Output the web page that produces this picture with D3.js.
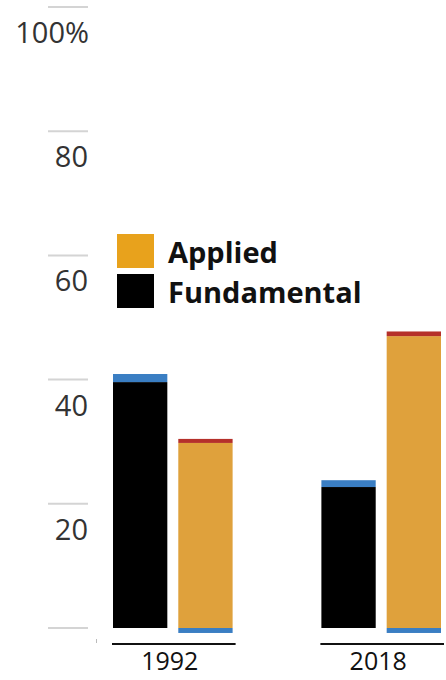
<!DOCTYPE html>
<html lang="en">
<head>
  <meta charset="UTF-8">
  <title>Fundamental vs Applied, 1992 and 2018</title>
  <script src="https://d3js.org/d3.v7.min.js"></script>
  <style>
    body {
      margin: 0;
      overflow: hidden;
      background-color: #fff;
      font-family: 'Open Sans', sans-serif;
    }
    svg {
      display: block;
    }
    .tick-mark {
      stroke: #d4d4d4;
      stroke-width: 2px;
    }
    .tick-label {
      font-size: 29px;
      fill: #333;
      text-anchor: end;
    }
    .year-label {
      font-size: 25px;
      fill: #111;
      text-anchor: middle;
    }
    .base-line {
      stroke: #111;
      stroke-width: 2px;
    }
    .legend-label {
      font-size: 29px;
      font-weight: 700;
      fill: #111;
    }
  </style>
</head>
<body>
<svg></svg>
<script>
  // values (percent)
  const years = ["1992", "2018"];
  const barTypes = ["Fundamental", "Applied"];
  const fundamental = [39.6, 22.7];
  const fundamentalTop = [1.3, 1.1];   // blue cap on fundamental bars
  const applied = [29.8, 47.0];
  const appliedTop = [0.65, 0.75];     // red cap on applied bars
  const appliedBelow = [0.8, 0.8];     // blue strip under applied bars
  const tickValues = [0, 20, 40, 60, 80, 100];
  const legendItems = ["Applied", "Fundamental"];

  const width = 446;
  const height = 680;

  const colors = {
    fundamental: "#000000",
    applied: "#dfa13c",
    blue: "#3a7ec3",
    red: "#b5302a",
    legendApplied: "#e8a21c",
    legendFundamental: "#000000"
  };

  const svg = d3.select("svg")
          .attr("width", width)
          .attr("height", height);

  const y = d3.scaleLinear().domain([0, 100]).range([628, 7]);

  const x = d3.scaleBand()
          .domain(years)
          .range([113, 441])
          .paddingInner(0.426)
          .paddingOuter(0);

  const xInner = d3.scaleBand()
          .domain(barTypes)
          .range([0, x.bandwidth()])
          .paddingInner(0.168)
          .paddingOuter(0);

  // y axis: short grey marks with labels below them
  const axis = svg.append("g");
  axis.selectAll("line")
          .data(tickValues)
          .join("line")
          .attr("class", "tick-mark")
          .attr("x1", 48)
          .attr("x2", 88)
          .attr("y1", d => y(d))
          .attr("y2", d => y(d));

  axis.selectAll("text")
          .data(tickValues.filter(d => d > 0))
          .join("text")
          .attr("class", "tick-label")
          .attr("x", d => d === 100 ? 89 : 88)
          .attr("y", d => y(d) + 36)
          .text(d => d === 100 ? "100%" : d);

  axis.append("line")
          .attr("x1", 96.5).attr("x2", 96.5)
          .attr("y1", 639).attr("y2", 643)
          .attr("stroke", "#bbb")
          .attr("stroke-width", 1);

  // bars
  const rows = years.map((yr, i) => ({
    year: yr,
    fundamental: fundamental[i],
    fundamentalTop: fundamentalTop[i],
    applied: applied[i],
    appliedTop: appliedTop[i],
    appliedBelow: appliedBelow[i]
  }));

  const group = svg.append("g")
          .selectAll("g")
          .data(rows)
          .join("g")
          .attr("transform", d => `translate(${x(d.year)},0)`);

  const fx = xInner("Fundamental");
  const ax = xInner("Applied");
  const bw = xInner.bandwidth();

  // fundamental stack
  group.append("rect")
          .attr("x", fx).attr("width", bw)
          .attr("y", d => y(d.fundamental))
          .attr("height", d => y(0) - y(d.fundamental))
          .attr("fill", colors.fundamental);
  group.append("rect")
          .attr("x", fx).attr("width", bw)
          .attr("y", d => y(d.fundamental + d.fundamentalTop))
          .attr("height", d => y(d.fundamental) - y(d.fundamental + d.fundamentalTop))
          .attr("fill", colors.blue);

  // applied stack
  group.append("rect")
          .attr("x", ax).attr("width", bw)
          .attr("y", d => y(d.applied))
          .attr("height", d => y(0) - y(d.applied))
          .attr("fill", colors.applied);
  group.append("rect")
          .attr("x", ax).attr("width", bw)
          .attr("y", d => y(d.applied + d.appliedTop))
          .attr("height", d => y(d.applied) - y(d.applied + d.appliedTop))
          .attr("fill", colors.red);
  group.append("rect")
          .attr("x", ax).attr("width", bw)
          .attr("y", y(0))
          .attr("height", d => y(-d.appliedBelow) - y(0))
          .attr("fill", colors.blue);

  // baseline under each year and year label
  group.append("line")
          .attr("class", "base-line")
          .attr("x1", -1)
          .attr("x2", x.bandwidth() + 3)
          .attr("y1", 644)
          .attr("y2", 644);

  group.append("text")
          .attr("class", "year-label")
          .attr("x", x.bandwidth() / 2 - 3)
          .attr("y", 670)
          .text(d => d.year);

  // legend
  const legend = svg.append("g").attr("transform", "translate(117,234)");
  const legendColor = d3.scaleOrdinal()
          .domain(legendItems)
          .range([colors.legendApplied, colors.legendFundamental]);

  const item = legend.selectAll("g")
          .data(legendItems)
          .join("g")
          .attr("transform", (d, i) => `translate(0,${i * 40})`);

  item.append("rect")
          .attr("width", 37)
          .attr("height", 34)
          .attr("fill", d => legendColor(d));

  item.append("text")
          .attr("class", "legend-label")
          .attr("x", 51)
          .attr("y", 29)
          .text(d => d);
</script>
</body>
</html>
